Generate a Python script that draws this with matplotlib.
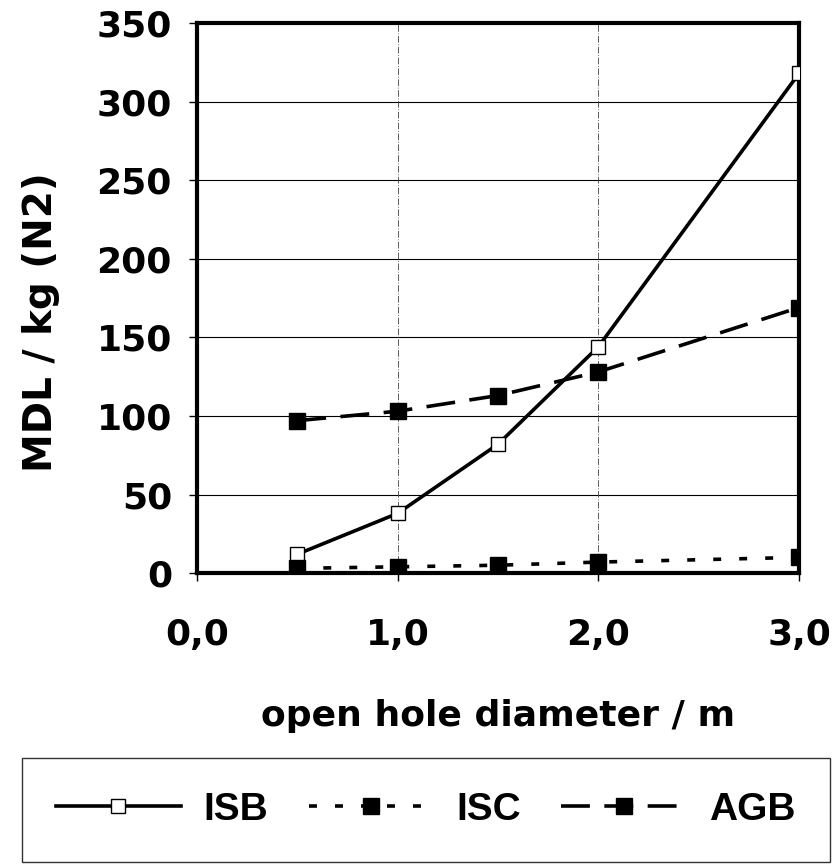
import matplotlib
matplotlib.use("Agg")
import matplotlib.pyplot as plt

x = [0.5, 1.0, 1.5, 2.0, 3.0]
isb = [12, 38, 82, 144, 318]
isc = [3, 4, 5, 7, 10]
agb = [97, 103, 113, 128, 169]
xticks = [0.0, 1.0, 2.0, 3.0]
xticklabels = ["0,0", "1,0", "2,0", "3,0"]
yticks = [0, 50, 100, 150, 200, 250, 300, 350]

fig = plt.figure(figsize=(8.4, 8.67), dpi=100)
ax = fig.add_axes([0.2345, 0.339, 0.7167, 0.6344])

ax.plot(x, isb, color="black", lw=2.6, ls="-", marker="s", ms=10,
        mfc="white", mec="black", mew=1.0, label="ISB", zorder=4)
ax.plot(x, isc, color="black", lw=2.6, ls=(0, (2.2, 5)), marker="s", ms=11,
        mfc="black", mec="black", label="ISC", zorder=4)
ax.plot(x, agb, color="black", lw=2.6, ls=(0, (8, 4)), marker="s", ms=11,
        mfc="black", mec="black", label="AGB", zorder=4)

ax.set_xlim(0, 3)
ax.set_ylim(0, 350)
ax.set_xticks(xticks)
ax.set_xticklabels(xticklabels)
ax.set_yticks(yticks)

for v in yticks[1:-1]:
    ax.axhline(v, color="black", lw=0.8, zorder=1)
for v in [1.0, 2.0]:
    ax.axvline(v, color="#444444", lw=0.6, ls=(0, (8, 2, 1, 2)), zorder=1)

for s in ax.spines.values():
    s.set_linewidth(3)
    s.set_color("black")

ax.tick_params(axis="x", direction="out", length=6, width=1, pad=26,
               labelsize=26)
ax.tick_params(axis="y", direction="out", length=6, width=1, pad=12,
               labelsize=26)
for lab in ax.get_xticklabels() + ax.get_yticklabels():
    lab.set_fontweight("bold")
    lab.set_family("DejaVu Sans")

ax.set_xlabel("open hole diameter / m", fontsize=26, fontweight="bold",
              labelpad=34)
ax.set_ylabel("MDL / kg (N2)", fontsize=28, fontweight="bold")
ax.yaxis.set_label_coords(-0.228, 0.456)

leg = fig.legend(loc="center", bbox_to_anchor=(0.026, 0.006, 0.962, 0.12),
                 mode="expand", ncol=3, frameon=True, fancybox=False,
                 handlelength=3.2, handletextpad=0.6, borderaxespad=0,
                 borderpad=0.88,
                 prop={"family": "Liberation Sans", "weight": "bold", "size": 28})
leg.get_frame().set_edgecolor("black")
leg.get_frame().set_linewidth(1.0)

fig.savefig("out.png", dpi=100)
